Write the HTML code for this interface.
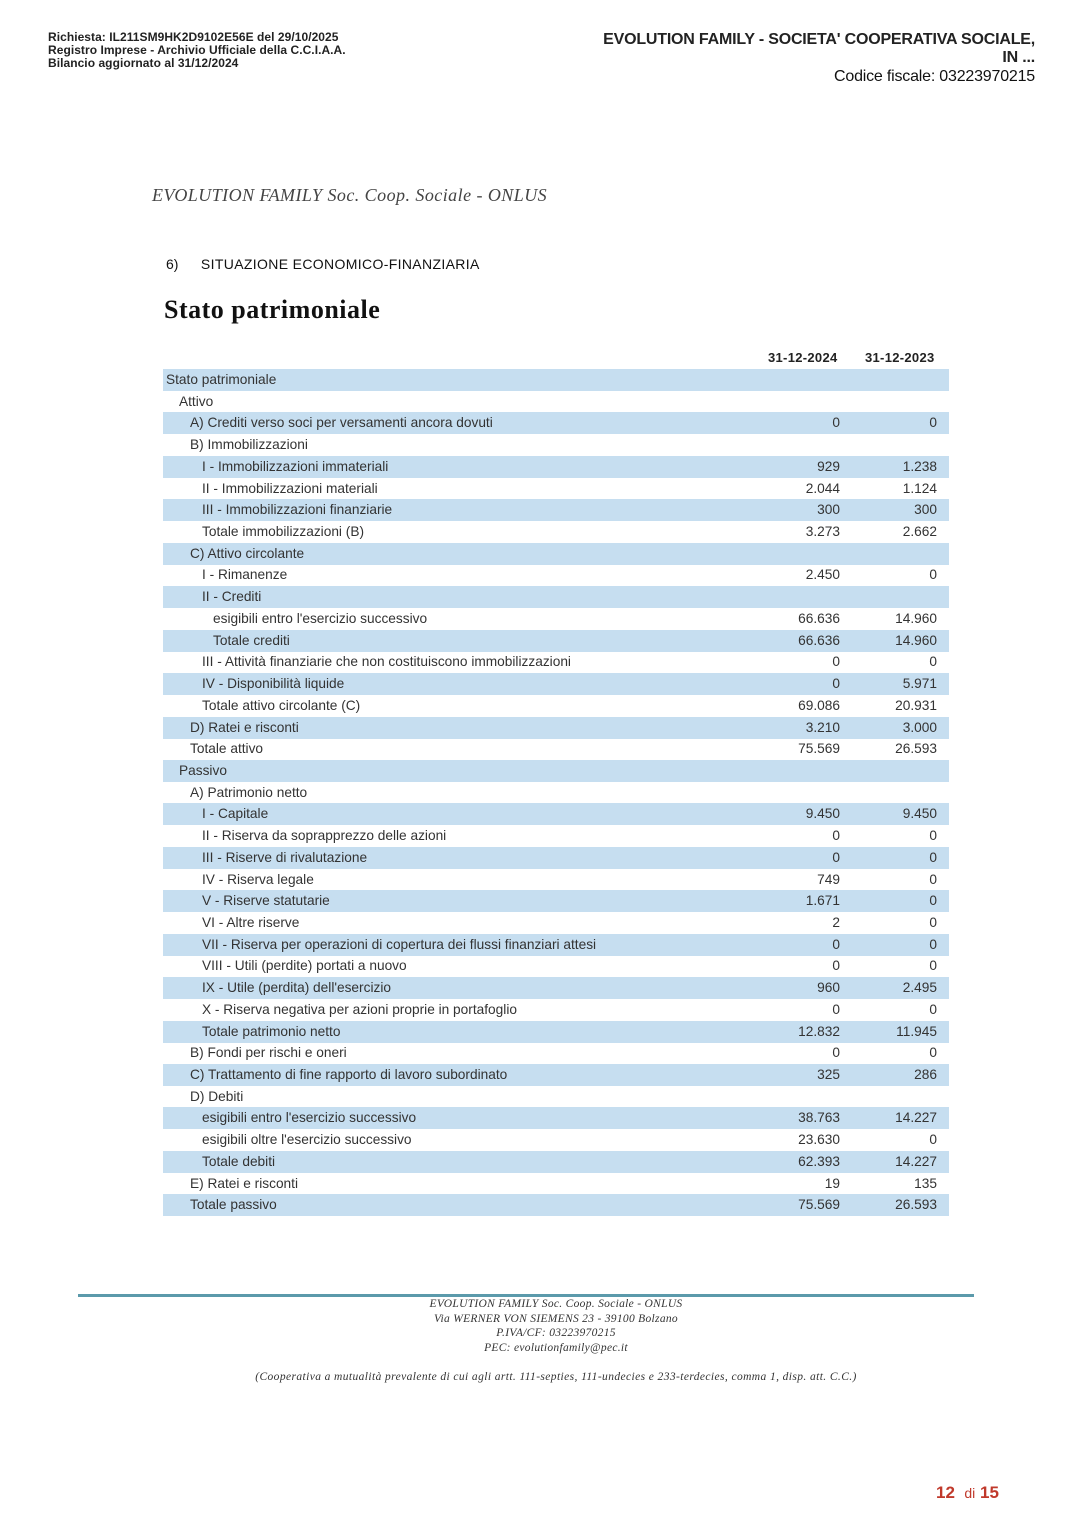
<!DOCTYPE html>
<html><head><meta charset="utf-8">
<style>
body{margin:0;width:1084px;height:1532px;background:#fff;position:relative;overflow:hidden;font-family:"Liberation Sans",sans-serif;}
.a{position:absolute;white-space:nowrap;}
.hdr{font-size:12px;font-weight:bold;color:#222;line-height:13px;letter-spacing:0.05px}
.hr{font-size:16px;font-weight:bold;color:#222;line-height:18px;text-align:right;right:49px;letter-spacing:-0.2px}
.row{position:absolute;left:163px;width:786px;height:22px;font-size:13.7px;color:#333;line-height:22px}
.row.s{background:#c6def0}
.row span{position:absolute}
.v1{right:109px}.v2{right:12px}
.ft{font-family:"Liberation Serif",serif;font-style:italic;font-size:11.5px;color:#333;text-align:center;width:1084px;left:0;line-height:14.5px;letter-spacing:0.3px}
</style></head><body>
<div class="a hdr" style="left:48px;top:31px">Richiesta: IL211SM9HK2D9102E56E del 29/10/2025<br>Registro Imprese - Archivio Ufficiale della C.C.I.A.A.<br>Bilancio aggiornato al 31/12/2024</div>
<div class="a hr" style="top:31px">EVOLUTION FAMILY - SOCIETA' COOPERATIVA SOCIALE,<br>IN ...</div>
<div class="a hr" style="top:68px;font-weight:normal;font-size:16px;color:#111">Codice fiscale: 03223970215</div>
<div class="a" style="left:152px;top:185px;font-family:'Liberation Serif',serif;font-style:italic;font-size:18px;letter-spacing:0.45px;color:#444">EVOLUTION FAMILY Soc. Coop. Sociale - ONLUS</div>
<div class="a" style="left:166px;top:256px;font-size:14px;color:#111">6)&nbsp;&nbsp;&nbsp;&nbsp;&nbsp;<span style="letter-spacing:0.35px;margin-left:3px">SITUAZIONE ECONOMICO-FINANZIARIA</span></div>
<div class="a" style="left:164px;top:295px;font-family:'Liberation Serif',serif;font-weight:bold;font-size:26px;letter-spacing:0.5px;color:#111">Stato patrimoniale</div>
<div class="a" style="left:768px;top:350px;font-size:13px;font-weight:bold;color:#222;letter-spacing:0.3px">31-12-2024</div>
<div class="a" style="left:865px;top:350px;font-size:13px;font-weight:bold;color:#222;letter-spacing:0.3px">31-12-2023</div>
<div id="tbl"></div>
<div class="a" style="left:78px;top:1294px;width:896px;height:3px;background:#5b9aab"></div>
<div class="a ft" style="top:1297px;left:14px">EVOLUTION FAMILY Soc. Coop. Sociale - ONLUS<br>Via WERNER VON SIEMENS 23 - 39100 Bolzano<br>P.IVA/CF: 03223970215<br>PEC: evolutionfamily@pec.it</div>
<div class="a ft" style="top:1370px;left:14px;letter-spacing:0.4px">(Cooperativa a mutualità prevalente di cui agli artt. 111-septies, 111-undecies e 233-terdecies, comma 1, disp. att. C.C.)</div>
<div class="a" style="left:936px;top:1483px;font-size:17px;font-weight:bold;color:#c0392b">12&nbsp; <span style="font-size:14px;font-weight:normal">di</span> 15</div>
<script>
const labels=["Stato patrimoniale","Attivo","A) Crediti verso soci per versamenti ancora dovuti","B) Immobilizzazioni","I - Immobilizzazioni immateriali","II - Immobilizzazioni materiali","III - Immobilizzazioni finanziarie","Totale immobilizzazioni (B)","C) Attivo circolante","I - Rimanenze","II - Crediti","esigibili entro l'esercizio successivo","Totale crediti","III - Attività finanziarie che non costituiscono immobilizzazioni","IV - Disponibilità liquide","Totale attivo circolante (C)","D) Ratei e risconti","Totale attivo","Passivo","A) Patrimonio netto","I - Capitale","II - Riserva da soprapprezzo delle azioni","III - Riserve di rivalutazione","IV - Riserva legale","V - Riserve statutarie","VI - Altre riserve","VII - Riserva per operazioni di copertura dei flussi finanziari attesi","VIII - Utili (perdite) portati a nuovo","IX - Utile (perdita) dell'esercizio","X - Riserva negativa per azioni proprie in portafoglio","Totale patrimonio netto","B) Fondi per rischi e oneri","C) Trattamento di fine rapporto di lavoro subordinato","D) Debiti","esigibili entro l'esercizio successivo","esigibili oltre l'esercizio successivo","Totale debiti","E) Ratei e risconti","Totale passivo"];
const levels=[0,1,2,2,3,3,3,3,2,3,3,4,4,3,3,3,2,2,1,2,3,3,3,3,3,3,3,3,3,3,3,2,2,2,3,3,3,2,2];
const v2024=["","","0","","929","2.044","300","3.273","","2.450","","66.636","66.636","0","0","69.086","3.210","75.569","","","9.450","0","0","749","1.671","2","0","0","960","0","12.832","0","325","","38.763","23.630","62.393","19","75.569"];
const v2023=["","","0","","1.238","1.124","300","2.662","","0","","14.960","14.960","0","5.971","20.931","3.000","26.593","","","9.450","0","0","0","0","0","0","0","2.495","0","11.945","0","286","","14.227","0","14.227","135","26.593"];
const indent=[3,16,27,39,50];
const tbl=document.getElementById('tbl');
labels.forEach((l,i)=>{
  const r=document.createElement('div');
  r.className='row'+(i%2===0?' s':'');
  r.style.top=(369+i*21.72)+'px';
  
  
  const a=document.createElement('span');a.style.left=indent[levels[i]]+'px';a.textContent=l;
  
  
  const b=document.createElement('span');b.className='v1';b.textContent=v2024[i];
  
  
  const c=document.createElement('span');c.className='v2';c.textContent=v2023[i];
  
  
  r.append(a,b,c);tbl.appendChild(r);
});
</script>
</body></html>
